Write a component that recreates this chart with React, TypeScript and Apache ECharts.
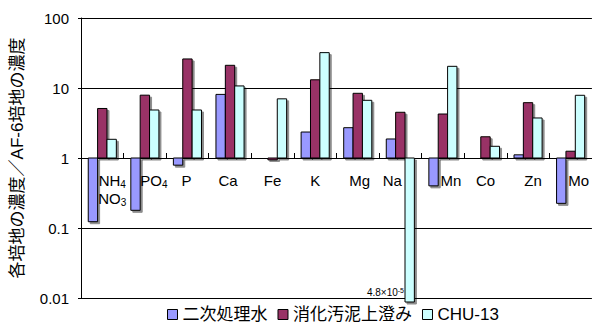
import React, { useEffect, useRef } from "react";
import * as echarts from "echarts";

const categories = ["NH4/NO3", "PO4", "P", "Ca", "Fe", "K", "Mg", "Na", "Mn", "Co", "Zn", "Mo"];
const seriesNames = ["二次処理水", "消化汚泥上澄み", "CHU-13"];
const secondaryTreated: (number | null)[] = [0.123, 0.179, 0.79, 8.1, null, 2.35, 2.71, 1.87, 0.4, null, 1.11, 0.225];
const digestedSupernatant: (number | null)[] = [5.1, 7.9, 26, 21.1, 0.94, 13.1, 8.4, 4.5, 4.25, 2.01, 6.17, 1.25];
const chu13: (number | null)[] = [1.85, 4.85, 4.85, 10.7, 7.0, 32, 6.67, 4.8e-5, 20.4, 1.47, 3.73, 7.87];
const yTickMin = 0.01;
const yTickMax = 100;
const offScaleLabel = "4.8×10{sup|-5}";
const yAxisName = "各培地の濃度／AF-6培地の濃度";

const colors = ["#9999FF", "#993366", "#CCFFFF"];
const FONT = "'Liberation Sans', Arial, 'Noto Sans CJK JP', sans-serif";
// horizontal shift (px) of each category label, to keep it clear of the bars
const labelShift: Record<string, number> = {
  "NH4/NO3": 10, PO4: 9, P: -1, Ca: -2, Fe: 0, K: 0, Mg: 2, Na: -8, Mn: 8, Co: 0, Zn: 5, Mo: 8,
};

export default function App() {
  const ref = useRef<HTMLDivElement>(null);
  useEffect(() => {
    if (!ref.current) return;
    const chart = echarts.init(ref.current, undefined, { renderer: "svg" });
    const allData = [secondaryTreated, digestedSupernatant, chu13];

    const makeRender = (sIdx: number) => (params: any, api: any) => {
      const ci = api.value(0);
      const v = api.value(1);
      const band = api.size([1, 1])[0];
      const bw = band * 0.22;
      const base = api.coord([ci, 1]);
      const x = base[0] - 1.5 * bw + sIdx * bw;
      const y1 = base[1];
      let y2 = api.coord([ci, v])[1];
      const cs = params.coordSys;
      const bottom = cs.y + cs.height;
      const clipped = y2 > bottom;
      if (clipped) y2 = bottom + 4;
      const children: any[] = [
        {
          type: "rect",
          shape: { x, y: Math.min(y1, y2), width: bw, height: Math.abs(y2 - y1) },
          style: {
            fill: colors[sIdx],
            stroke: "#000",
            lineWidth: 1,
            shadowColor: "rgba(0,0,0,0.45)",
            shadowOffsetX: 2,
            shadowOffsetY: 2,
            shadowBlur: 0,
          },
        },
      ];
      if (clipped) {
        children.push({
          type: "text",
          x: x - 1,
          y: bottom - 6,
          style: {
            text: offScaleLabel,
            fill: "#000",
            font: `10px ${FONT}`,
            align: "right",
            verticalAlign: "middle",
            rich: { sup: { fontSize: 7, verticalAlign: "top", lineHeight: 9, fontFamily: FONT } },
          },
        });
      }
      return { type: "group", children };
    };

    const rich: any = {
      sub: { fontSize: 10, lineHeight: 11, verticalAlign: "bottom", fontFamily: FONT, color: "#000" },
    };
    categories.forEach((c, i) => {
      const s = labelShift[c] || 0;
      rich["c" + i] = {
        fontSize: 15,
        lineHeight: 18,
        fontFamily: FONT,
        color: "#000",
        padding: s >= 0 ? [0, 0, 0, 2 * s] : [0, -2 * s, 0, 0],
      };
    });

    const fmtCat = (val: string, idx: number) => {
      if (val === "NH4/NO3") {
        return `{c${idx}|NH}{sub|4}\n{c${idx}|NO}{sub|3}`;
      }
      if (val === "PO4") return `{c${idx}|PO}{sub|4}`;
      return `{c${idx}|${val}}`;
    };

    chart.setOption({
      animation: false,
      textStyle: { fontFamily: FONT },
      grid: { left: 81, right: -1, top: 18, bottom: 31, containLabel: false },
      legend: {
        data: seriesNames.map((n, i) => ({
          name: n,
          itemStyle: { color: colors[i], borderColor: "#000", borderWidth: 1 },
        })),
        left: 162,
        bottom: 1,
        icon: "rect",
        itemWidth: 10,
        itemHeight: 10,
        itemGap: 10,
        textStyle: { fontSize: 17, color: "#000", fontFamily: FONT, padding: [0, 0, 0, 0] },
      },
      xAxis: {
        type: "category",
        data: categories,
        position: "bottom",
        offset: -140,
        axisLine: { show: true, lineStyle: { color: "#000", width: 1 } },
        axisTick: { show: true, inside: true, length: 5, lineStyle: { color: "#000" } },
        axisLabel: { margin: 13, formatter: fmtCat, rich, interval: 0 },
        splitLine: { show: false },
      },
      yAxis: {
        type: "log",
        logBase: 10,
        min: yTickMin,
        max: yTickMax,
        name: yAxisName,
        nameLocation: "middle",
        nameRotate: 90,
        nameGap: 55,
        nameTextStyle: { fontSize: 17, color: "#000", fontFamily: FONT },
        axisLine: { show: true, lineStyle: { color: "#000", width: 1 } },
        axisTick: { show: true, inside: false, length: 3, lineStyle: { color: "#000" } },
        axisLabel: {
          fontSize: 15,
          color: "#000",
          margin: 12,
          formatter: (v: number) => String(Number(v.toPrecision(3))),
        },
        splitLine: { show: true, lineStyle: { color: "#000", width: 1 } },
      },
      series: allData.map((vals, sIdx) => ({
        type: "custom",
        name: seriesNames[sIdx],
        itemStyle: { color: colors[sIdx], borderColor: "#000", borderWidth: 1 },
        encode: { x: 0, y: 1 },
        clip: false,
        data: vals
          .map((v, i) => (v == null ? null : [i, v]))
          .filter((d) => d !== null),
        renderItem: makeRender(sIdx),
      })),
    });
    return () => chart.dispose();
  }, []);
  return <div ref={ref} style={{ width: 592, height: 329, position: "absolute", left: 0, top: 0 }} />;
}
